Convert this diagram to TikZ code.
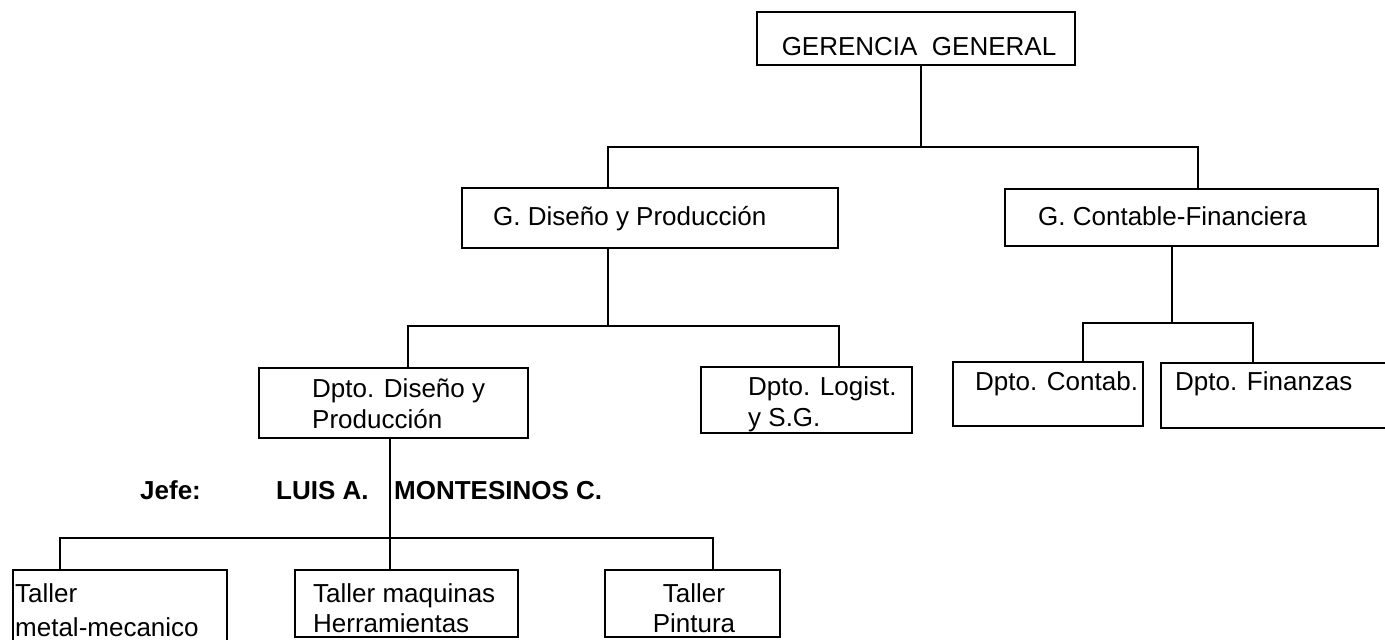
\documentclass[tikz,border=0pt]{standalone}
\usepackage{fontspec}
\setmainfont{Liberation Sans}
\begin{document}
\begin{tikzpicture}[x=1pt,y=-1pt,
  box/.style={draw=black,line width=1.3pt,rectangle,inner sep=0pt},
  txt/.style={inner sep=0pt,font=\fontsize{26}{31}\selectfont},
  boss/.style={inner sep=0pt,font=\fontsize{26}{30}\selectfont\bfseries},
  conn/.style={draw=black,line width=1.3pt}]
\useasboundingbox (0,0) rectangle (1385,640);
\clip (0,0) rectangle (1385,640);
\fill[white] (0,0) rectangle (1385,640);
% boxes (center, size)
\node[box,minimum width=318pt,minimum height=53pt] (gg) at (916,38.5) {};
\node[box,minimum width=376pt,minimum height=60pt] (gd) at (650,218) {};
\node[box,minimum width=373pt,minimum height=57pt] (gc) at (1191.5,217.5) {};
\node[box,minimum width=269pt,minimum height=70pt] (dd) at (393.5,403) {};
\node[box,minimum width=211pt,minimum height=66pt] (dl) at (806.5,400) {};
\node[box,minimum width=190pt,minimum height=64pt] (dc) at (1048,394) {};
\node[box,minimum width=240pt,minimum height=65pt] (df) at (1281,395.5) {};
\node[box,minimum width=214pt,minimum height=85pt] (tm) at (120,612.5) {};
\node[box,minimum width=223pt,minimum height=67pt] (tq) at (406.5,603.5) {};
\node[box,minimum width=175pt,minimum height=67pt] (tp) at (692.5,603.5) {};
% texts
\node[txt,anchor=base] (gg-t) at (919,55) {GERENCIA\ \ GENERAL};
\node[txt,anchor=base west] (gd-t) at (493,225) {G. Diseño y Producción};
\node[txt,anchor=base west] (gc-t) at (1038,225) {G. Contable-Financiera};
\node[txt,anchor=base west] (dd-t1) at (312,397) {Dpto. Diseño y};
\node[txt,anchor=base west] (dd-t2) at (312,428) {Producción};
\node[txt,anchor=base west] (dl-t1) at (748,395) {Dpto. Logist.};
\node[txt,anchor=base west] (dl-t2) at (748,426) {y S.G.};
\node[txt,anchor=base west] (dc-t) at (975,390) {Dpto. Contab.};
\node[txt,anchor=base west] (df-t) at (1175,390) {Dpto. Finanzas};
\node[txt,anchor=base west] (tm-t1) at (15,602) {Taller};
\node[txt,anchor=base west] (tm-t2) at (15,636) {metal-mecanico};
\node[txt,anchor=base west] (tq-t1) at (313,602) {Taller maquinas};
\node[txt,anchor=base west] (tq-t2) at (313,632) {Herramientas};
\node[txt,anchor=base] (tp-t1) at (694,602) {Taller};
\node[txt,anchor=base] (tp-t2) at (694,632) {Pintura};
\node[boss,anchor=base west] (jefe) at (140,499) {Jefe:};
\node[boss,anchor=base west] (luis) at (276,499) {LUIS A.};
\node[boss,anchor=base west] (mont) at (394,499) {MONTESINOS C.};
% junction coordinates
\coordinate (j1) at (921,147);
\coordinate (j1l) at (608,147);
\coordinate (j1r) at (1198,147);
\coordinate (j2) at (608,326);
\coordinate (j2l) at (408,326);
\coordinate (j2r) at (839,326);
\coordinate (j3) at (1172,323);
\coordinate (j3l) at (1083,323);
\coordinate (j3r) at (1253,323);
\coordinate (j4) at (390,538);
\coordinate (j4l) at (60,538);
\coordinate (j4r) at (713,538);
% connectors
\draw[conn] (j1 |- gg.south) -- (j1);
\draw[conn] (j1l |- gd.north) -- (j1l) -- (j1r) -- (j1r |- gc.north);
\draw[conn] (j2 |- gd.south) -- (j2);
\draw[conn] (j2l |- dd.north) -- (j2l) -- (j2r) -- (j2r |- dl.north);
\draw[conn] (j3 |- gc.south) -- (j3);
\draw[conn] (j3l |- dc.north) -- (j3l) -- (j3r) -- (j3r |- df.north);
\draw[conn] (j4 |- dd.south) -- (j4);
\draw[conn] (j4l |- tm.north) -- (j4l) -- (j4r) -- (j4r |- tp.north);
\draw[conn] (j4) -- (j4 |- tq.north);
\end{tikzpicture}
\end{document}
